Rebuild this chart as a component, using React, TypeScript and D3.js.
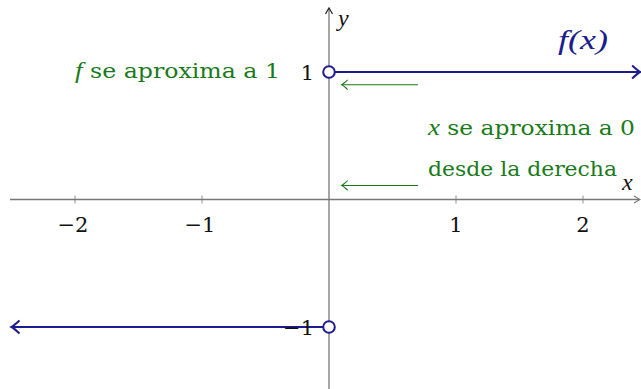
import React from "react";
import * as d3 from "d3";

const xTicks = [-2, -1, 1, 2];
const yTicks = [1, -1];
const pieces = [
  { x0: -2.5, x1: 0, value: -1, arrow: "left" },
  { x0: 0, x1: 2.45, value: 1, arrow: "right" },
];
const approachArrows = [
  { y: 0.9, x0: 0.7, x1: 0.1 },
  { y: 0.11, x0: 0.7, x1: 0.1 },
];
const labels = [
  { text: ["f", " se aproxima a 1"], left: 75, width: 205, y: 1.0 },
  { text: ["x", " se aproxima a 0"], left: 428, width: 207, y: 0.55 },
  { text: ["", "desde la derecha"], left: 428, width: 189, y: 0.23 },
];

const W = 641, H = 389;
const x = d3.scaleLinear().domain([-2.5, 2.5]).range([11.5, 646.5]);
const y = d3.scaleLinear().domain([-1.5, 1.5]).range([390.75, 8.25]);

const AXIS = "#777777";
const BLUE = "#1c1c8c";
const GREEN = "#1a7a1a";
const FONT = "DejaVu Serif";
const MATH = "Liberation Serif";

function arrowHead(px: number, py: number, dir: number, size: number) {
  const b = px - dir * size;
  return `M${b},${py - size * 0.8} Q${px - dir * size * 0.3},${py - size * 0.15} ${px},${py} Q${px - dir * size * 0.3},${py + size * 0.15} ${b},${py + size * 0.8}`;
}

export default function App() {
  const x0 = x(0), y0 = y(0);
  const tf = { fontFamily: FONT };
  const mf = { fontFamily: MATH };
  return (
    <svg width={W} height={H} style={{ position: "absolute", left: 0, top: 0, background: "#fff" }}>
      <line x1={10} x2={639} y1={y0} y2={y0} stroke={AXIS} strokeWidth={1.3} />
      <path d={`M634,${y0 - 3.5} L640,${y0} L634,${y0 + 3.5}`} fill="none" stroke={AXIS} strokeWidth={1.2} />
      <line x1={x0} x2={x0} y1={389} y2={9} stroke={AXIS} strokeWidth={1.3} />
      <path d={`M${x0 - 3.5},14 L${x0},8 L${x0 + 3.5},14`} fill="none" stroke="#222" strokeWidth={1.2} />
      <text x={622} y={190} fontSize={24} fontStyle="italic" fill="#111" style={mf}>x</text>
      <text x={338} y={26} fontSize={24} fontStyle="italic" fill="#111" style={mf}>y</text>
      {xTicks.map((t) => (
        <g key={t}>
          <line x1={x(t)} x2={x(t)} y1={y0 - 4} y2={y0 + 4} stroke={AXIS} strokeWidth={0.8} />
          <text x={x(t) - (t < 0 ? 2 : 0)} y={y0 + 32} fontSize={21} textAnchor="middle" fill="#111" style={tf}>
            {t < 0 ? "\u2212" + Math.abs(t) : String(t)}
          </text>
        </g>
      ))}
      {pieces.map((p, i) => {
        const a = p.arrow === "right" ? x(p.x1) : x(p.x0);
        const py = y(p.value);
        return (
          <g key={i}>
            <line x1={x(p.x0)} x2={x(p.x1)} y1={py} y2={py} stroke={BLUE} strokeWidth={2} />
            <path d={arrowHead(a, py, p.arrow === "right" ? 1 : -1, 8)} fill="none" stroke={BLUE} strokeWidth={2} />
          </g>
        );
      })}
      {yTicks.map((t) => (
        <text key={t} x={x0 - 15} y={y(t) + 7.5} fontSize={21} textAnchor="end" fill="#111" style={tf}>
          {t < 0 ? "\u2212" + Math.abs(t) : String(t)}
        </text>
      ))}
      {pieces.map((p, i) => (
        <circle key={"c" + i} cx={x(0)} cy={y(p.value)} r={5.8} fill="#fff" stroke={BLUE} strokeWidth={2} />
      ))}
      <text x={558} y={49} fontSize={27} fontStyle="italic" fill={BLUE} style={mf} textLength={50} lengthAdjust="spacingAndGlyphs">f(x)</text>
      {approachArrows.map((a, i) => {
        const py = y(a.y);
        return (
          <g key={"a" + i}>
            <line x1={x(a.x0)} x2={x(a.x1)} y1={py} y2={py} stroke={GREEN} strokeWidth={1.1} />
            <path d={arrowHead(x(a.x1), py, -1, 6)} fill="none" stroke={GREEN} strokeWidth={1.1} />
          </g>
        );
      })}
      {labels.map((l, i) => (
        <text key={"l" + i} x={l.left} y={y(l.y) + 6} fontSize={20} fill={GREEN} style={tf}
          textLength={l.width} lengthAdjust="spacingAndGlyphs">
          {l.text[0] ? <tspan fontStyle="italic" style={mf} fontSize={23}>{l.text[0]}</tspan> : null}
          <tspan>{l.text[1]}</tspan>
        </text>
      ))}
    </svg>
  );
}
